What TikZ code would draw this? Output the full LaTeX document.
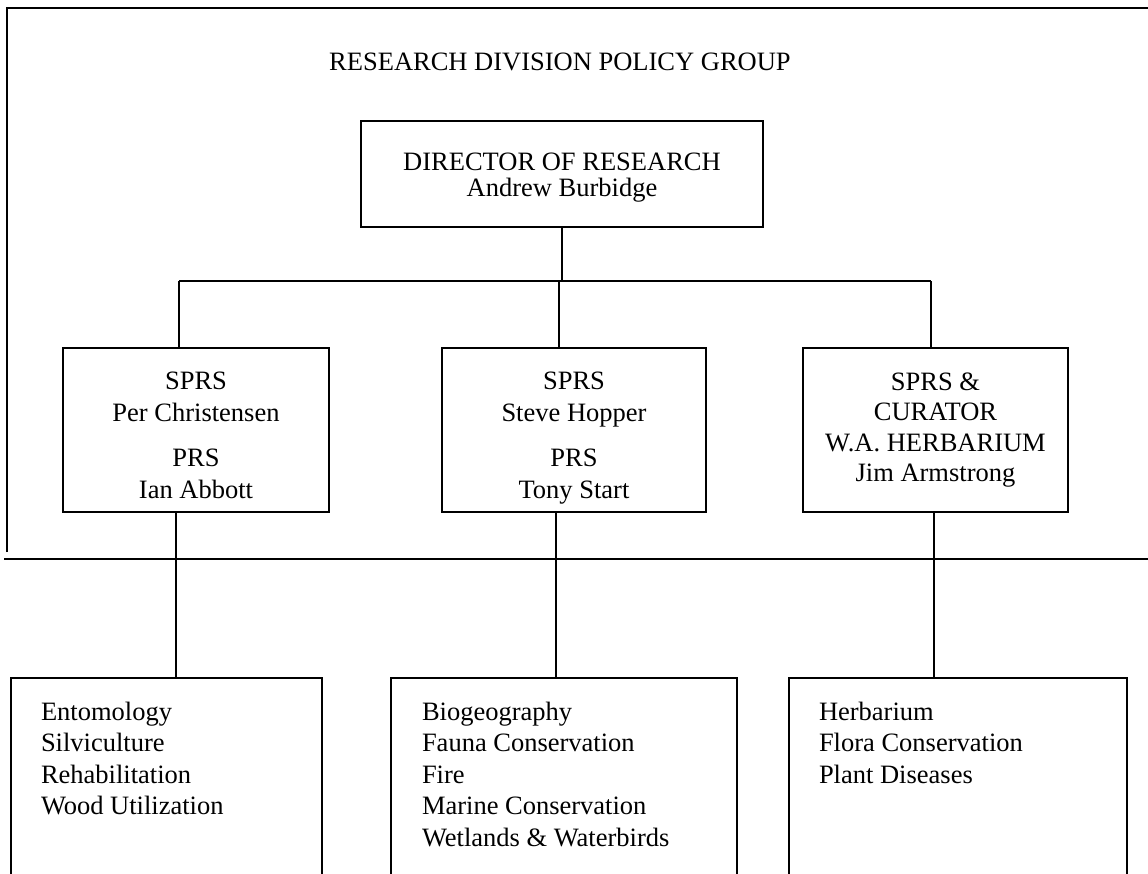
\documentclass[tikz,border=0pt]{standalone}
\usepackage{fontspec}
\setmainfont{Liberation Serif}
\newcommand\orgfont{\fontsize{13.25pt}{15.75pt}\selectfont}
\newcommand\topstrut[1]{\rule{0pt}{#1}}
\newcommand\botstrut{\rule[-3pt]{0pt}{0pt}}
\begin{document}
\begin{tikzpicture}[x=0.5pt,y=-0.5pt,line width=1pt,
  box/.style={draw, rectangle, inner sep=0pt, align=center, font=\orgfont},
  dbox/.style={draw, rectangle, inner sep=0pt, minimum height=111pt},
  listtext/.style={inner sep=0pt, align=left, anchor=north west, font=\orgfont},
  titletext/.style={inner sep=0pt, font=\orgfont}]
\clip (0,0) rectangle (1148,874);
% group frame
\draw (7,552) -- (7,8) -- (1150,8);
\draw (4,559) -- (1150,559);
% title
\node[titletext] (ttl) at (560,62) {RESEARCH DIVISION POLICY GROUP};
% director
\node[box, minimum width=201pt, minimum height=53pt] (dir) at (562,174)
  {\topstrut{12.3pt}DIRECTOR OF RESEARCH\\[-3pt]Andrew Burbidge};
% middle boxes
\node[box, minimum width=133pt, minimum height=82pt] (m1) at (196,430)
  {\topstrut{17pt}SPRS\\Per Christensen\\[7pt]PRS\\Ian Abbott\botstrut};
\node[box, minimum width=132pt, minimum height=82pt] (m2) at (574,430)
  {\topstrut{17pt}SPRS\\Steve Hopper\\[7pt]PRS\\Tony Start\botstrut};
\node[box, minimum width=132.5pt, minimum height=82pt] (m3) at (935.5,430)
  {SPRS \&\\[-0.5pt]CURATOR\\[-0.5pt]W.A. HERBARIUM\\[-0.5pt]Jim Armstrong};
% bottom boxes
\node[dbox, minimum width=155.5pt] (b1) at (166.5,789) {};
\node[dbox, minimum width=173pt] (b2) at (564,789) {};
\node[dbox, minimum width=169pt] (b3) at (958,789) {};
\node[listtext] (l1) at ([xshift=15pt,yshift=-12pt]b1.north west)
  {Entomology\\Silviculture\\Rehabilitation\\Wood Utilization};
\node[listtext] (l2) at ([xshift=15.5pt,yshift=-12pt]b2.north west)
  {Biogeography\\Fauna Conservation\\Fire\\Marine Conservation\\Wetlands \& Waterbirds};
\node[listtext] (l3) at ([xshift=15pt,yshift=-12pt]b3.north west)
  {Herbarium\\Flora Conservation\\Plant Diseases};
% connectors
\coordinate (j1) at (179,281);
\coordinate (j2) at (559,281);
\coordinate (j3) at (931,281);
\draw (dir.south) -- (dir.south |- j1);
\draw (j1) -- (j3);
\draw (j1) -- (j1 |- m1.north);
\draw (j2) -- (j2 |- m2.north);
\draw (j3) -- (j3 |- m3.north);
\coordinate (k1) at (176,600);
\coordinate (k2) at (556,600);
\coordinate (k3) at (934,600);
\draw (k1 |- m1.south) -- (k1 |- b1.north);
\draw (k2 |- m2.south) -- (k2 |- b2.north);
\draw (k3 |- m3.south) -- (k3 |- b3.north);
\end{tikzpicture}
\end{document}
